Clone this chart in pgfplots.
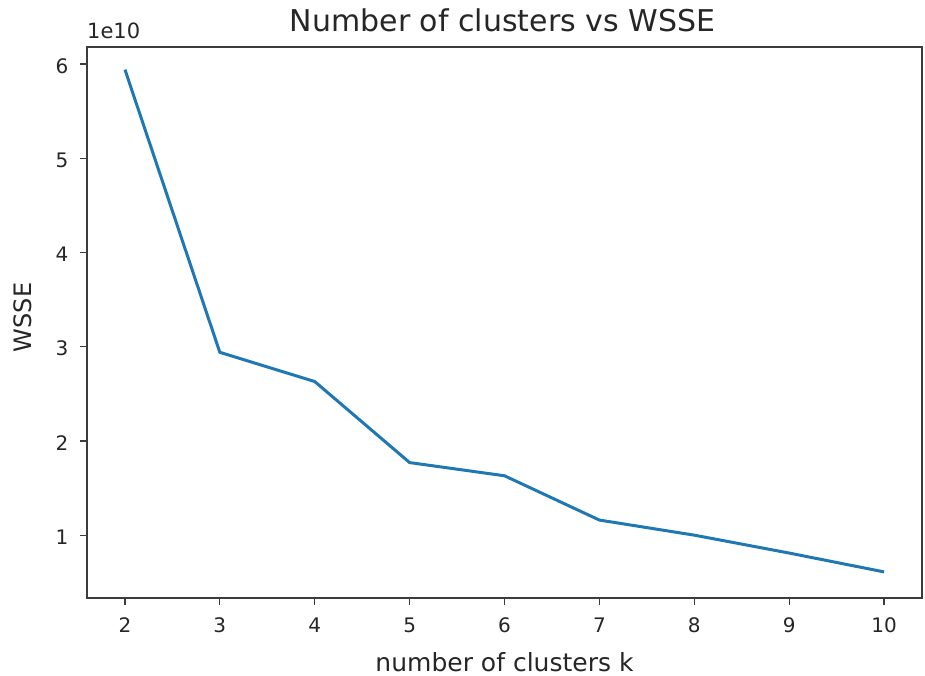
\documentclass[border=0pt]{standalone}
\usepackage{pgfplots}
\pgfplotsset{compat=1.18}
\usepackage{fontspec}
\setmainfont{DejaVu Sans}
\definecolor{mplblue}{HTML}{1F77B4}
\definecolor{txt}{HTML}{262626}
\begin{document}
\begin{tikzpicture}
\useasboundingbox (-87pt,-78pt) rectangle (838pt,598pt);
\begin{axis}[
  at={(0,0)}, anchor=south west,
  scale only axis, width=835pt, height=551pt,
  xmin=1.6, xmax=10.4, ymin=0.333, ymax=6.18,
  xtick={2,3,4,5,6,7,8,9,10},
  ytick={1,2,3,4,5,6},
  axis line style={line width=1.3pt, color=txt!90},
  tick style={line width=1.2pt, color=txt!90},
  tick align=outside, major tick length=7pt,
  xtick pos=bottom, ytick pos=left,
  /pgf/number format/assume math mode=true,
  ticklabel style={font=\fontsize{20}{24}\selectfont, text=txt},
  xticklabel style={yshift=-9pt},
  yticklabel style={xshift=-8pt, yshift=-2pt},
  clip=false,
]
\addplot[color=mplblue, line width=3pt, line join=round, mark=none] coordinates {
  (2,5.94) (3,2.94) (4,2.63) (5,1.77) (6,1.63) (7,1.16) (8,1.00) (9,0.81) (10,0.61)
};
\node[anchor=base west, inner sep=0pt, font=\fontsize{21}{25}\selectfont, text=txt] at (rel axis cs:0,1) [yshift=8pt] {1e10};
\node[anchor=base, inner sep=0pt, font=\fontsize{30}{36}\selectfont, text=txt] at ([xshift=-2pt, yshift=15pt]rel axis cs:0.5,1) {Number of clusters vs WSSE};
\node[anchor=base, inner sep=0pt, font=\fontsize{25}{30}\selectfont, text=txt] at ([yshift=-73pt]rel axis cs:0.5,0) {number of clusters k};
\node[anchor=base, inner sep=0pt, rotate=90, font=\fontsize{24}{29}\selectfont, text=txt] at ([xshift=-55pt, yshift=5pt]rel axis cs:0,0.5) {WSSE};
\end{axis}
\end{tikzpicture}
\end{document}
